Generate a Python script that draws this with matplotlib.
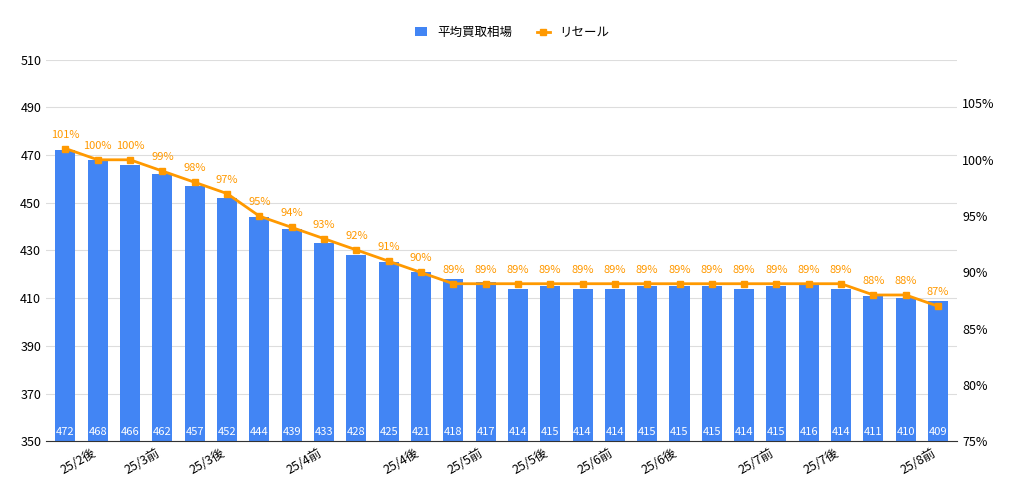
import numpy as np
import matplotlib.pyplot as plt

plt.rcParams['font.family'] = ['Noto Sans CJK JP']

buy = [472, 468, 466, 462, 457, 452, 444, 439, 433, 428, 425, 421, 418, 417,
       414, 415, 414, 414, 415, 415, 415, 414, 415, 416, 414, 411, 410, 409]
resale = [101, 100, 100, 99, 98, 97, 95, 94, 93, 92, 91, 90] + [89] * 13 + [88, 88, 87]
tick_pos = [1, 3, 5, 8, 11, 13, 15, 17, 19, 22, 24, 27]
tick_labels = ['25/2後', '25/3前', '25/3後', '25/4前', '25/4後', '25/5前', '25/5後',
               '25/6前', '25/6後', '25/7前', '25/7後', '25/8前']

x = np.arange(len(buy))
fig, ax = plt.subplots(figsize=(10.24, 4.96), dpi=100)
fig.subplots_adjust(left=0.045, right=0.935, top=0.88, bottom=0.11)

ax.bar(x, buy, width=0.62, color='#4285F4', label='平均買取相場', zorder=2)
for xi, v in zip(x, buy):
    ax.text(xi, 352, str(v), ha='center', va='bottom', color='white', fontsize=8, zorder=3)
ax.set_ylim(350, 510)
ax.set_yticks(range(350, 511, 20))
ax.set_xlim(-0.6, len(buy) - 0.4)
ax.grid(axis='y', color='#dddddd', lw=0.8, zorder=0)
ax.set_xticks(tick_pos)
ax.set_xticklabels(tick_labels, rotation=30, ha='right', fontsize=9)
ax.tick_params(length=0, labelsize=9)
for s in ax.spines.values():
    s.set_visible(False)
ax.spines['bottom'].set_visible(True)
ax.spines['bottom'].set_color('#333333')

ax2 = ax.twinx()
ax2.plot(x, resale, color='#FF9900', marker='s', markersize=5, lw=2, label='リセール', zorder=4)
for xi, v in zip(x, resale):
    ax2.text(xi, v + 0.8, f'{v}%', ha='center', va='bottom', color='#FF9900', fontsize=8)
ax2.set_ylim(75, 105 + 30 * (510 - 490) / 140 * 0 + 3.9)
ax2.set_yticks(range(75, 106, 5))
ax2.set_yticklabels([f'{t}%' for t in range(75, 106, 5)])
ax2.tick_params(length=0, labelsize=9)
for s in ax2.spines.values():
    s.set_visible(False)

h1, l1 = ax.get_legend_handles_labels()
h2, l2 = ax2.get_legend_handles_labels()
fig.legend(h1 + h2, l1 + l2, loc='upper center', ncol=2, frameon=False, fontsize=9,
           bbox_to_anchor=(0.5, 0.97), handlelength=1, markerscale=0.8)

plt.savefig('out.png')
